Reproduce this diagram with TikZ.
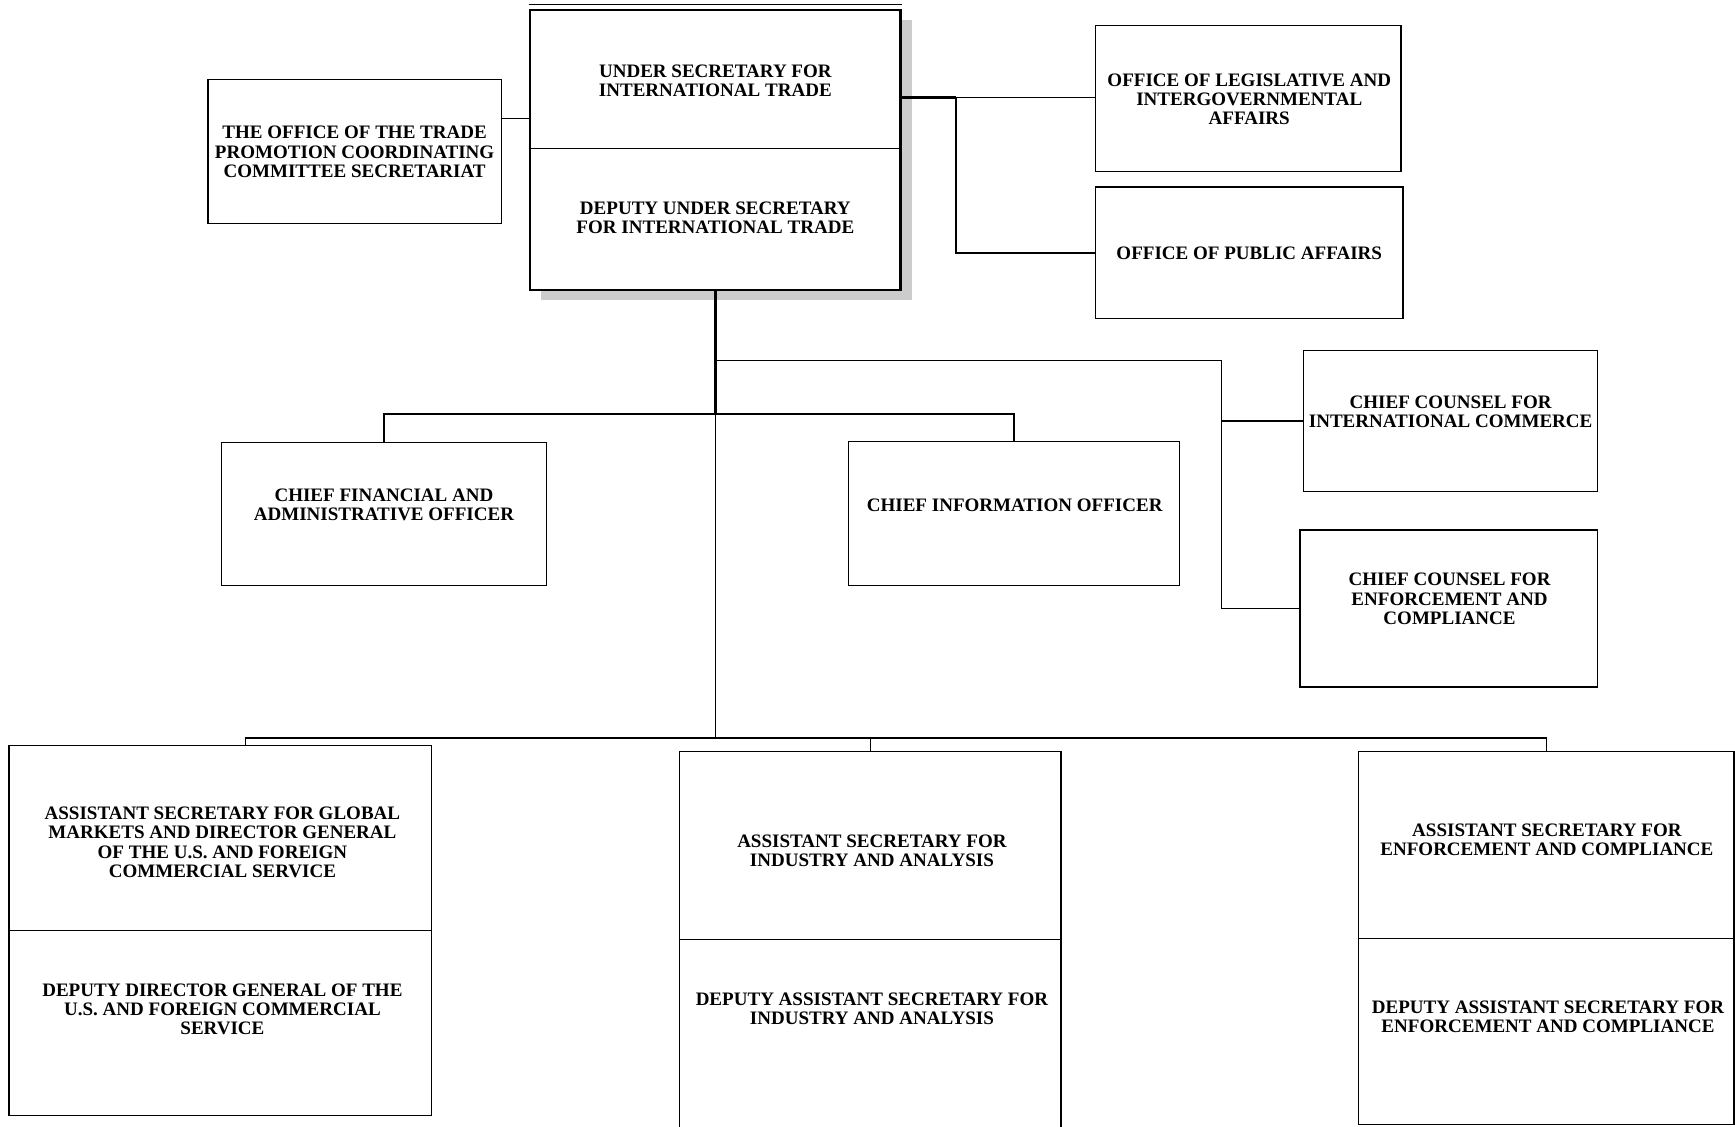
\documentclass[tikz,border=0pt]{standalone}
\usepackage{fontspec}
\setmainfont{Liberation Serif}
\usetikzlibrary{shadows}
\begin{document}
\begin{tikzpicture}[x=1pt,y=-1pt,
  box/.style={draw, line width=1.2pt, inner sep=0pt, rectangle, fill=white},
  lbl/.style={align=center, inner sep=0pt, yshift=-1.2pt, font=\fontsize{17.2}{17.3}\selectfont\bfseries},
  conn/.style={line width=1.2pt},
  thickconn/.style={line width=2.5pt}]
\useasboundingbox (0,0) rectangle (1568,1018);
\clip (0,0) rectangle (1568,1018);

% boxes
\node[box, minimum width=265pt, minimum height=130pt] (tpcc) at (320.5,137) {};
\node[box, line width=2.5pt, minimum width=335pt, minimum height=253pt,
      drop shadow={shadow xshift=10pt, shadow yshift=-9pt, fill=black!20, opacity=1}] (us) at (646.5,135.5) {};
\node[box, minimum width=276pt, minimum height=132pt] (olia) at (1128,89) {};
\node[box, minimum width=278pt, minimum height=119pt] (opa) at (1129,228.5) {};
\node[box, minimum width=266pt, minimum height=127pt] (ccic) at (1311,380.5) {};
\node[box, minimum width=269pt, minimum height=142pt] (ccec) at (1309.5,550) {};
\node[box, minimum width=294pt, minimum height=129pt] (cfao) at (347,464.5) {};
\node[box, minimum width=299pt, minimum height=130pt] (cio) at (916.5,464) {};
\node[box, minimum width=382pt, minimum height=334pt] (gm) at (199,841) {};
\node[box, minimum width=345pt, minimum height=370pt] (ia) at (786.5,864) {};
\node[box, minimum width=339pt, minimum height=337pt] (ec) at (1397.5,847.5) {};

% dividers
\coordinate (dus) at (0,134);
\coordinate (dgm) at (0,841);
\coordinate (dia) at (0,849);
\coordinate (dec) at (0,848);
\draw[conn] (us.west |- dus) -- (us.east |- dus);
\draw[conn] (gm.west |- dgm) -- (gm.east |- dgm);
\draw[conn] (ia.west |- dia) -- (ia.east |- dia);
\draw[conn] (ec.west |- dec) -- (ec.east |- dec);
\draw[line width=0.9pt] ([yshift=3.5pt]us.north west) -- ([yshift=3.5pt]us.north east);

% texts
\node[lbl] (tpcc-t) at (320.5,136) {THE OFFICE OF THE TRADE\\PROMOTION COORDINATING\\COMMITTEE SECRETARIAT};
\node[lbl] (ust) at (646.5,71.5) {UNDER SECRETARY FOR\\INTERNATIONAL TRADE};
\node[lbl] (dust) at (646.5,196) {DEPUTY UNDER SECRETARY\\FOR INTERNATIONAL TRADE};
\node[lbl] (olia-t) at (1129,88.5) {OFFICE OF LEGISLATIVE AND\\INTERGOVERNMENTAL\\AFFAIRS};
\node[lbl] (opa-t) at (1129,228) {OFFICE OF PUBLIC AFFAIRS};
\node[lbl] (ccic-t) at (1311,371) {CHIEF COUNSEL FOR\\INTERNATIONAL COMMERCE};
\node[lbl] (ccec-t) at (1310,540) {CHIEF COUNSEL FOR\\ENFORCEMENT AND\\COMPLIANCE};
\node[lbl] (cfao-t) at (347,455) {CHIEF FINANCIAL AND\\ADMINISTRATIVE OFFICER};
\node[lbl] (cio-t) at (917,455) {CHIEF INFORMATION OFFICER};
\node[lbl] (gm-t) at (201,760) {ASSISTANT SECRETARY FOR GLOBAL\\MARKETS AND DIRECTOR GENERAL\\OF THE U.S. AND FOREIGN\\COMMERCIAL SERVICE};
\node[lbl] (gmd-t) at (201,911) {DEPUTY DIRECTOR GENERAL OF THE\\U.S. AND FOREIGN COMMERCIAL\\SERVICE};
\node[lbl] (ia-t) at (788,768) {ASSISTANT SECRETARY FOR\\INDUSTRY AND ANALYSIS};
\node[lbl] (iad-t) at (788,910.5) {DEPUTY ASSISTANT SECRETARY FOR\\INDUSTRY AND ANALYSIS};
\node[lbl] (ec-t) at (1398,758) {ASSISTANT SECRETARY FOR\\ENFORCEMENT AND COMPLIANCE};
\node[lbl] (ecd-t) at (1399,918) {DEPUTY ASSISTANT SECRETARY FOR\\ENFORCEMENT AND COMPLIANCE};

% junctions
\coordinate (yl) at (0,107);
\coordinate (jr) at (864,88);
\coordinate (jt) at (646.5,326);
\coordinate (jc) at (1104,326);
\coordinate (jm) at (646.5,374);
\coordinate (jb) at (646.5,667);
\coordinate (bl) at (222,667);
\coordinate (br) at (1397.5,667);

% connectors
\draw[conn] (tpcc.east |- yl) -- (us.west |- yl);
\draw[thickconn] (us.east |- jr) -- (jr);
\draw[conn] (jr) -- (olia.west |- jr);
\draw[conn] (jr) |- (opa.west);
\draw[thickconn] (us.south) -- (jm);
\draw[conn] (jm) -- (jb);
\draw[conn] (jt) -- (jc) |- (ccec.west);
\draw[conn] (jc |- ccic.west) -- (ccic.west);
\draw[conn] (cfao.north) |- (jm) -| (cio.north);
\draw[conn] (gm.north -| bl) -- (bl) -- (br) -- (ec.north);
\draw[conn] (ia.north) -- (ia.north |- jb);
\end{tikzpicture}
\end{document}
